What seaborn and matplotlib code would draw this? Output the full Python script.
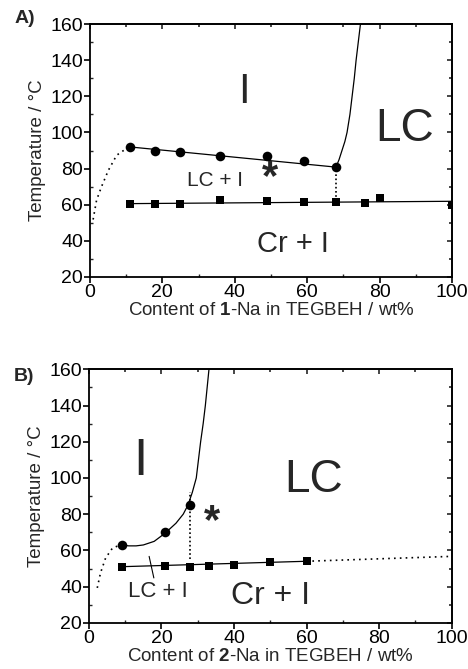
import numpy as np
import matplotlib
matplotlib.use("Agg")
from matplotlib import pyplot as plt
from matplotlib.ticker import MultipleLocator
import seaborn as sns

sns.set_style("ticks")
plt.rcParams['font.family'] = ['Liberation Sans', 'DejaVu Sans']
plt.rcParams['mathtext.fontset'] = 'custom'
plt.rcParams['mathtext.rm'] = 'Liberation Sans'
plt.rcParams['mathtext.bf'] = 'Liberation Sans:bold'

# ---- panel A data (1-Na) ----
a_circ_x = [11, 18, 25, 36, 49, 59, 68]
a_circ_y = [92, 90, 89, 87, 87, 84, 81]
a_sq_x = [11, 18, 25, 36, 49, 59, 68, 76, 80, 100]
a_sq_y = [60.5, 60.3, 60.5, 62.5, 62, 61.5, 61.5, 61, 63.5, 60]
a_circ_fit_x = [11, 67]
a_circ_fit_y = [92, 81]
a_sq_fit_x = [11, 100]
a_sq_fit_y = [60.6, 61.9]
a_curve_x = [68, 68.8, 69.6, 70.4, 71.0, 71.8, 72.4, 73.0, 73.5, 74.1, 74.7]
a_curve_y = [81, 85, 90, 95, 100, 110, 120, 130, 140, 150, 160]
a_dot_x = [0.9, 1.85, 3.2, 5.1, 7.4, 10.1]
a_dot_y = [51.8, 62.5, 69.9, 79, 87.4, 91.1]
a_vert_x = [68, 68]
a_vert_y = [62, 80]

# ---- panel B data (2-Na) ----
b_circ_x = [9, 21, 28]
b_circ_y = [63, 70, 85]
b_sq_x = [9, 21, 28, 33, 40, 50, 60]
b_sq_y = [51, 51.5, 51, 51.5, 52, 53.5, 54]
b_sq_fit_x = [9, 60]
b_sq_fit_y = [51, 54]
b_sq_dot_x = [60, 100]
b_sq_dot_y = [54, 56.7]
b_curve_x = [9, 11, 13, 15, 18, 21, 24, 26, 27.3, 28.5, 29.6, 30.8, 31.5, 32.1, 32.6, 33.1]
b_curve_y = [63, 62.5, 62.5, 63, 65, 69.5, 75, 80, 85, 92, 100, 120, 130, 140, 150, 160]
b_dot_x = [2.3, 3.2, 4.6, 6.5, 8.7]
b_dot_y = [39.3, 47.6, 55.8, 61.3, 63]
b_vert_x = [28, 28]
b_vert_y = [55, 92]
b_ptr_x = [16.6, 17.9]
b_ptr_y = [56.7, 44.8]

fig = plt.figure(figsize=(4.68, 6.69), dpi=100)
axA = fig.add_axes([0.192, 0.586, 0.774, 0.378])
axB = fig.add_axes([0.190, 0.069, 0.775, 0.379])


def style_axes(ax, xlabel):
    ax.set_xlim(0, 100)
    ax.set_ylim(20, 160)
    ax.xaxis.set_major_locator(MultipleLocator(20))
    ax.xaxis.set_minor_locator(MultipleLocator(10))
    ax.yaxis.set_major_locator(MultipleLocator(20))
    ax.yaxis.set_minor_locator(MultipleLocator(10))
    for sp in ax.spines.values():
        sp.set_visible(True)
        sp.set_linewidth(1.3)
        sp.set_color("black")
    ax.tick_params(which="major", direction="out", length=4, width=1.2,
                   labelsize=14, colors="black", pad=1)
    ax.tick_params(which="minor", direction="in", length=2.5, width=1.0)
    ax.set_xlabel(xlabel, fontsize=13.5, labelpad=1)
    ax.set_ylabel("Temperature / °C", fontsize=13.5, labelpad=3)
    top = ax.secondary_xaxis("top")
    top.xaxis.set_major_locator(MultipleLocator(20))
    top.xaxis.set_minor_locator(MultipleLocator(10))
    top.tick_params(which="both", direction="in", labeltop=False, width=1.2)
    top.tick_params(which="major", length=3.5)
    top.tick_params(which="minor", length=2)
    right = ax.secondary_yaxis("right")
    right.yaxis.set_major_locator(MultipleLocator(20))
    right.yaxis.set_minor_locator(MultipleLocator(10))
    right.tick_params(which="both", direction="in", labelright=False, width=1.2)
    right.tick_params(which="major", length=3.5)
    right.tick_params(which="minor", length=2)
    for s in (top, right):
        for sp in s.spines.values():
            sp.set_linewidth(1.3)


# ---- panel A ----
ax = axA
ax.plot(a_circ_fit_x, a_circ_fit_y, color="black", lw=0.9)
ax.plot(a_sq_fit_x, a_sq_fit_y, color="black", lw=0.9)
ax.plot(a_curve_x, a_curve_y, color="black", lw=0.9)
ax.plot(a_dot_x, a_dot_y, color="black", lw=1.2, ls=(0, (1, 2.5)))
ax.plot(a_vert_x, a_vert_y, color="black", lw=1.2, ls=(0, (1, 1.5)))
sns.scatterplot(x=a_circ_x, y=a_circ_y, ax=ax, marker="o", s=48, color="black",
                edgecolor="black", linewidth=0, zorder=3)
sns.scatterplot(x=a_sq_x, y=a_sq_y, ax=ax, marker="s", s=38, color="black",
                edgecolor="black", linewidth=0, zorder=3)
ax.text(42.4, 122.5, "I", fontsize=30, ha="center", va="center")
ax.text(87, 102, "LC", fontsize=33, ha="center", va="center")
ax.text(34.6, 73.6, "LC + I", fontsize=15, ha="center", va="center")
ax.text(49.8, 75, "*", fontsize=30, fontweight="bold", ha="center", va="center")
ax.text(56.2, 38.5, "Cr + I", fontsize=21, ha="center", va="center")
style_axes(ax, "Content of $\\mathbf{1}$-Na in TEGBEH / wt%")
fig.text(0.03, 0.973, "A)", fontsize=14, fontweight="bold", va="center")

# ---- panel B ----
ax = axB
ax.plot(b_sq_fit_x, b_sq_fit_y, color="black", lw=0.9)
ax.plot(b_sq_dot_x, b_sq_dot_y, color="black", lw=1.2, ls=(0, (1, 2.5)))
ax.plot(b_curve_x, b_curve_y, color="black", lw=0.9)
ax.plot(b_dot_x, b_dot_y, color="black", lw=1.2, ls=(0, (1, 2.5)))
ax.plot(b_vert_x, b_vert_y, color="black", lw=1.2, ls=(0, (1, 1.5)))
ax.plot(b_ptr_x, b_ptr_y, color="black", lw=0.8)
sns.scatterplot(x=b_circ_x, y=b_circ_y, ax=ax, marker="o", s=48, color="black",
                edgecolor="black", linewidth=0, zorder=3)
sns.scatterplot(x=b_sq_x, y=b_sq_y, ax=ax, marker="s", s=38, color="black",
                edgecolor="black", linewidth=0, zorder=3)
ax.text(14.3, 109, "I", fontsize=37, ha="center", va="center")
ax.text(62, 99, "LC", fontsize=33, ha="center", va="center")
ax.text(33.8, 75.5, "*", fontsize=30, fontweight="bold", ha="center", va="center")
ax.text(18.9, 37.5, "LC + I", fontsize=16, ha="center", va="center")
ax.text(50, 34.7, "Cr + I", fontsize=23, ha="center", va="center")
style_axes(ax, "Content of $\\mathbf{2}$-Na in TEGBEH / wt%")
fig.text(0.03, 0.437, "B)", fontsize=14, fontweight="bold", va="center")

fig.savefig("out.png", dpi=100)
